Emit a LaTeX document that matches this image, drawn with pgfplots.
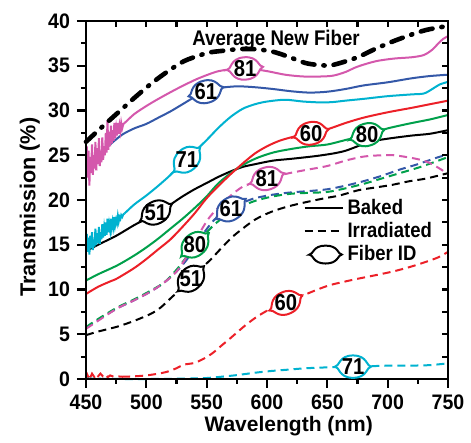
\documentclass[border=0pt]{standalone}
\usepackage{fontspec}
\setmainfont{Liberation Sans}
\newfontfamily\cond{Liberation Sans}[FakeStretch=0.88]
\newfontfamily\semicond{Liberation Sans}[FakeStretch=0.93]
\usepackage{pgfplots}
\pgfplotsset{compat=1.18}

\definecolor{cpink}{RGB}{212,88,172}
\definecolor{cblue}{RGB}{52,88,168}
\definecolor{ccyan}{RGB}{0,178,208}
\definecolor{cred}{RGB}{236,32,40}
\definecolor{cgreen}{RGB}{0,160,75}

\tikzset{
  fid/.pic={\path[pic actions] (-9pt,0pt) .. controls (-6.8pt,0pt) and (-7.2pt,5.6pt) .. (0pt,5.6pt)
     .. controls (7.2pt,5.6pt) and (6.8pt,0pt) .. (9pt,0pt)
     .. controls (6.8pt,0pt) and (7.2pt,-5.6pt) .. (0pt,-5.6pt)
     .. controls (-7.2pt,-5.6pt) and (-6.8pt,0pt) .. cycle;},
  baked/.style={line width=1pt},
  irr/.style={line width=1pt, dash pattern=on 4pt off 2.5pt},
}
% fiber id tag: coordinate, angle of the curve, colour, text
\newcommand\fid[4]{%
  \pic[draw=#3, fill=white, line width=1pt, rotate=#2] at (#1) {fid};
  \node[font=\fontsize{11.5}{13}\selectfont\cond\bfseries, inner sep=0pt] at (#1) {#4};}

\begin{document}
\begin{tikzpicture}
\begin{axis}[
  scale only axis,
  width=181pt, height=179pt,
  xmin=450, xmax=750, ymin=0, ymax=40,
  clip=false,
  xtick={450,500,...,750}, minor xtick={475,525,...,725},
  ytick={0,5,...,40}, minor ytick={2.5,7.5,...,37.5},
  xtick pos=bottom, ytick pos=left, tick align=outside,
  major tick length=4.5pt, minor tick length=2.5pt,
  axis line style={line width=1.3pt},
  tick style={black, line width=1.1pt},
  /pgf/number format/assume math mode=true,
  tick label style={font=\fontsize{10.5}{12}\selectfont\semicond\bfseries},
  xlabel={Wavelength (nm)},
  ylabel={Transmission (\%)},
  xlabel style={at={(axis description cs:0.56,-0.131)}, anchor=center,
    font=\fontsize{10.5}{12}\selectfont\bfseries},
  ylabel style={at={(axis description cs:-0.155,0.48)}, anchor=center,
    font=\fontsize{10.8}{12}\selectfont\bfseries},
  legend style={at={(axis description cs:0.6,0.515)}, anchor=north west, draw=none, fill=none,
    font=\fontsize{10.5}{12}\selectfont\cond\bfseries, inner sep=0pt, row sep=-1.5pt},
  legend cell align=left,
]
\addlegendimage{legend image code/.code={\draw[black,line width=1pt] (0pt,0pt) -- (19pt,0pt);}}
\addlegendimage{legend image code/.code={\draw[black,line width=1pt,dash pattern=on 4pt off 2.5pt] (0pt,0pt) -- (19pt,0pt);}}
\addlegendimage{legend image code/.code={\pic[draw=black,fill=white,line width=1pt,xscale=0.9,yscale=0.8] at (10.5pt,0pt) {fid};}}
\legend{Baked,Irradiated,Fiber ID}

% ---- irradiated ----
\addplot[irr, cblue, smooth] coordinates {
 (450,5.7) (460,6.6) (476,7.9) (490,8.8) (504,9.8) (515,10.8) (525,12.0) (535,13.6) (545,15.8)
 (555,17.6) (562,18.4) (570,19.0) (580,19.7) (590,20.2) (605,20.6) (620,20.85) (635,21.0)
 (650,21.2) (665,21.6) (680,22.1) (695,22.7) (710,23.4) (725,24.0) (740,24.7) (750,25.1)};
\addplot[irr, cgreen, smooth] coordinates {
 (450,5.8) (460,6.7) (476,8.0) (490,8.9) (504,9.9) (515,10.8) (525,12.2) (533,13.6) (540,15.0)
 (548,16.1) (556,17.2) (565,18.2) (576,19.1) (590,19.9) (605,20.4) (620,20.7) (635,20.8)
 (650,20.9) (665,21.3) (680,21.8) (695,22.4) (710,23.0) (725,23.6) (740,24.3) (750,24.8)};
\addplot[irr, cpink, smooth] coordinates {
 (450,5.6) (460,6.5) (476,7.9) (490,8.8) (504,9.8) (515,10.8) (525,12.0) (535,14.0) (545,16.5)
 (552,18.0) (560,19.2) (570,20.5) (580,21.5) (590,22.0) (600,22.4) (615,22.9) (630,23.3)
 (650,23.8) (665,24.4) (680,24.85) (695,25.0) (705,25.0) (720,24.7) (732,24.3) (742,23.6) (750,22.9)};
\addplot[irr, black, smooth] coordinates {
 (450,4.9) (460,5.3) (476,5.85) (490,6.5) (504,7.3) (512,8.0) (520,9.0) (528,10.0) (537,11.2)
 (545,12.3) (553,13.3) (562,14.6) (570,15.7) (576,16.4) (590,17.8) (604,18.7) (618,19.3)
 (632,19.75) (648,20.2) (660,20.5) (676,21.1) (690,21.4) (704,21.7) (718,22.1) (732,22.4) (750,23.0)};
\addplot[irr, cred] coordinates {
 (450,0.1) (451,0.5) (452,0.2) (453,0.6) (454,0.3) (455,0.6) (457,0.2) (458,0.5) (460,0.3)
 (462,0.6) (464,0.3) (466,0.5) (468,0.2) (470,0.4) (473,0.25) (476,0.3) (480,0.25)};
\addplot[irr, cred, smooth] coordinates {
 (480,0.25) (490,0.3) (500,0.4) (510,0.6) (517,0.8) (525,1.2) (531,1.6) (540,1.8) (548,2.3)
 (555,2.9) (562,3.7) (570,4.6) (576,5.3) (583,6.1) (590,6.8) (597,7.4) (604,7.9) (616,8.5)
 (631,9.4) (650,10.4) (665,10.9) (677,11.25) (690,11.6) (704,12.0) (718,12.5) (732,13.1)
 (742,13.6) (750,14.2)};
\addplot[irr, ccyan, smooth] coordinates {
 (450,0.05) (480,0.0) (500,0.0) (520,0.02) (535,0.05) (549,0.1) (562,0.25) (576,0.45) (590,0.7)
 (604,0.9) (618,1.05) (632,1.2) (650,1.3) (672,1.38) (690,1.45) (704,1.5) (720,1.5) (735,1.55) (750,1.75)};

% ---- baked ----
\addplot[baked, black, smooth] coordinates {
 (450,14.3) (460,15.0) (475,16.0) (490,17.2) (500,17.9) (510,18.7) (520,19.5) (530,20.4)
 (540,21.2) (550,21.9) (560,22.6) (570,23.2) (580,23.7) (590,24.0) (605,24.4) (620,24.6)
 (640,24.9) (655,25.2) (665,25.5) (675,26.0) (685,26.5) (700,26.85) (720,27.2) (735,27.4) (750,27.8)};
\addplot[baked, cgreen, smooth] coordinates {
 (450,11.0) (460,11.7) (476,12.7) (490,13.8) (500,14.7) (510,15.7) (520,16.8) (530,17.9)
 (540,19.1) (550,20.4) (560,21.9) (575,23.5) (590,24.6) (605,25.3) (620,25.7) (635,26.0)
 (650,26.2) (665,26.7) (683,27.3) (700,28.0) (720,28.6) (735,29.0) (750,29.5)};
\addplot[baked, cred, smooth] coordinates {
 (450,9.5) (460,10.3) (470,10.9) (476,11.25) (490,12.4) (500,13.4) (510,14.5) (520,15.6)
 (530,17.0) (540,18.5) (550,20.2) (560,21.6) (570,22.9) (575,23.5) (580,24.1) (590,25.2)
 (600,26.0) (610,26.6) (620,27.0) (635,27.45) (650,27.9) (665,28.6) (680,29.2) (700,29.8)
 (720,30.3) (735,30.7) (750,31.1)};
\addplot[baked, ccyan] coordinates {
 (450,15.0) (450.7,16.2) (451.4,14.2) (452.1,15.8) (452.8,13.9) (453.5,16.0) (454.2,14.6)
 (455,16.4) (455.7,14.4) (456.4,15.6) (457.1,14.8) (457.8,16.8) (458.5,15.0) (459.2,16.3)
 (460,15.2) (460.7,17.0) (461.4,15.1) (462.1,16.4) (462.8,15.6) (463.5,17.3) (464.2,15.8)
 (465,16.9) (465.7,16.0) (466.4,17.5) (467.1,16.1) (467.8,17.9) (468.5,16.4) (469.2,17.3)
 (470,16.6) (470.7,17.9) (471.4,16.9) (472.1,17.6) (472.8,17.0) (473.5,18.1) (474.2,17.2)
 (475,17.8) (475.7,17.4) (476.4,18.2) (477.1,17.6) (477.8,18.1) (478.5,17.9) (479.2,18.3)
 (480,18.1) (481,18.4) (482,18.5)};
\addplot[baked, ccyan, smooth] coordinates {
 (482,18.5) (490,19.5) (500,20.5) (510,21.6) (520,22.8) (530,24.2) (540,25.4) (550,26.7)
 (560,28.1) (570,29.3) (580,30.2) (590,30.7) (600,31.0) (615,31.2) (630,31.0) (645,30.9)
 (655,30.95) (665,31.1) (680,31.3) (700,31.6) (720,31.8) (730,31.9) (737,32.4) (743,32.9) (750,33.2)};
\addplot[baked, cblue, smooth] coordinates {
 (450,23.6) (460,24.9) (470,26.2) (480,27.3) (490,28.0) (500,28.5) (510,29.2) (520,29.9)
 (530,30.7) (540,31.5) (550,32.1) (560,32.5) (575,32.7) (590,32.6) (605,32.4) (620,32.15)
 (635,32.0) (650,32.1) (665,32.4) (680,32.8) (700,33.15) (720,33.6) (735,33.85) (750,34.0)};
\addplot[baked, cpink] coordinates {
 (450,24.0) (450.7,26.0) (451.4,22.5) (452.1,25.5) (452.8,21.6) (453.5,24.8) (454.2,23.0)
 (455,26.2) (455.7,22.8) (456.4,25.0) (457.1,23.5) (457.8,26.5) (458.5,23.3) (459.2,25.8)
 (460,24.0) (460.7,26.9) (461.4,23.8) (462.1,25.5) (462.8,24.2) (463.5,27.0) (464.2,24.5)
 (465,26.0) (465.7,25.0) (466.4,27.5) (467.1,25.3) (467.8,28.9) (468.5,25.6) (469.2,27.6)
 (470,26.0) (470.7,28.3) (471.4,26.3) (472.1,27.8) (472.8,26.6) (473.5,28.6) (474.2,26.9)
 (475,28.0) (475.7,27.2) (476.4,28.6) (477.1,27.4) (477.8,28.3) (478.5,27.7) (479.2,28.6)
 (480,28.0) (481,28.5) (482,28.6)};
\addplot[baked, cpink, smooth] coordinates {
 (482,28.6) (490,29.6) (500,30.5) (510,31.3) (525,32.4) (540,33.4) (550,33.95) (560,34.4)
 (575,34.7) (585,34.7) (600,34.4) (615,34.0) (630,33.8) (645,33.8) (655,33.9) (665,34.3)
 (675,34.9) (690,35.5) (705,35.8) (720,35.95) (730,36.2) (737,36.8) (742,37.5) (746,38.0) (750,38.3)};

% ---- average new fiber ----
\addplot[black, line width=2.3pt, line cap=round, dash pattern=on 6pt off 4.5pt on 0.6pt off 4.5pt, smooth] coordinates {
 (450,26.5) (462,28.0) (476,29.7) (490,31.4) (504,33.0) (517,34.3) (531,35.5) (545,36.2)
 (553,36.5) (562,36.65) (576,36.85) (590,36.85) (604,36.6) (618,36.0) (632,35.3) (645,35.05)
 (653,35.05) (663,35.4) (676,36.0) (690,36.9) (704,37.7) (718,38.4) (732,39.0) (750,39.45)};

\node[font=\fontsize{10.6}{12}\selectfont\cond\bfseries] at (axis cs:607.5,37.9) {Average New Fiber};

\coordinate (b81) at (axis cs:581.8,34.7);
\coordinate (b61) at (axis cs:549.4,32.1);
\coordinate (b71) at (axis cs:533.7,24.5);
\coordinate (b60) at (axis cs:636.5,27.45);
\coordinate (b80) at (axis cs:682.9,27.3);
\coordinate (b51) at (axis cs:508,18.6);
\coordinate (i81) at (axis cs:600,22.4);
\coordinate (i61) at (axis cs:570,19.0);
\coordinate (i80) at (axis cs:540.3,15.0);
\coordinate (i51) at (axis cs:537,11.2);
\coordinate (i60) at (axis cs:615.7,8.5);
\coordinate (i71) at (axis cs:671.3,1.38);
\coordinate (sw) at (rel axis cs:0,0);
\coordinate (ne) at (rel axis cs:1,1);
\end{axis}

% ticks on the top and right, pointing inwards
\begin{axis}[
  scale only axis,
  width=181pt, height=179pt,
  xmin=450, xmax=750, ymin=0, ymax=40,
  xtick={450,475,...,750}, ytick={0,2.5,...,40},
  xticklabels={}, yticklabels={},
  xtick pos=top, ytick pos=right, tick align=inside,
  major tick length=3pt,
  axis line style={line width=1.3pt},
  tick style={black, line width=1.1pt},
]
\end{axis}

\fid{b81}{5}{cpink}{81}
\fid{b61}{15}{cblue}{61}
\fid{b71}{43}{ccyan}{71}
\fid{b60}{13}{cred}{60}
\fid{b80}{16}{cgreen}{80}
\fid{b51}{28}{black}{51}
\fid{i81}{17}{cpink}{81}
\fid{i61}{34}{cblue}{61}
\fid{i80}{40}{cgreen}{80}
\fid{i51}{44}{black}{51}
\fid{i60}{25}{cred}{60}
\fid{i71}{0}{ccyan}{71}

\path ([shift={(-43pt,-30pt)}]sw) rectangle ([shift={(11.5pt,10.5pt)}]ne);
\end{tikzpicture}
\end{document}
